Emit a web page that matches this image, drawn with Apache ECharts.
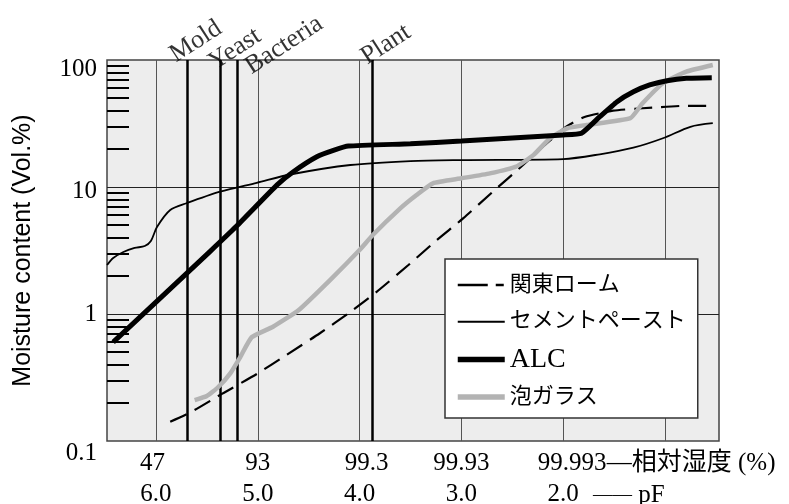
<!DOCTYPE html>
<html>
<head>
<meta charset="utf-8">
<script src="https://cdn.jsdelivr.net/npm/echarts@6/dist/echarts.min.js"></script>
<style>html,body{margin:0;padding:0;background:#fff;}#c{width:789px;height:504px;}</style>
</head>
<body>
<div id="c"></div>
<script>
// ---- data ----
const pfTicks = [6, 5, 4, 3, 2];
const rhLabels = ['47', '93', '99.3', '99.93', '99.993'];
const pfLabels = ['6.0', '5.0', '4.0', '3.0', '2.0'];
const rhTitle = '—相対湿度 (%)';
const pfTitle = 'pF';
const gridPF = [6, 5, 4, 3, 2, 1];
const gridY = [1, 10];
const yTickLabels = ['0.1', '1', '10', '100'];
const yMinorTicks = [0.2,0.3,0.4,0.5,0.6,0.7,0.8,0.9,2,3,4,5,6,7,8,9,20,30,40,50,60,70,80,90];
const organisms = ['Mold', 'Yeast', 'Bacteria', 'Plant'];
const organismPF = [5.69, 5.37, 5.20, 3.885];

const seriesNames = ['関東ローム', 'セメントペースト', 'ALC', '泡ガラス'];

const loamPF = [5.86, 5.65, 5.34, 5.01, 4.72, 4.39, 4.09, 3.83, 3.52, 3.24, 2.98, 2.69, 2.41, 2.16, 1.97, 1.79, 1.51, 1.22, 0.78, 0.53];
const loamV  = [0.142, 0.170, 0.238, 0.337, 0.475, 0.705, 1.04, 1.50, 2.43, 3.83, 5.68, 9.19, 14.5, 22.1, 29.8, 35.6, 39.9, 41.7, 43.6, 43.6];

const cementPF = [6.48, 6.42, 6.32, 6.21, 6.11, 6.05, 5.99, 5.86, 5.70, 5.37, 5.01, 4.67, 4.09, 3.50, 3.00, 2.00, 1.64, 1.31, 1.02, 0.75, 0.53];
const cementV  = [2.43, 2.76, 3.08, 3.31, 3.43, 3.76, 4.84, 6.59, 7.45, 9.19, 10.8, 12.6, 14.9, 16.0, 16.3, 16.6, 18.1, 20.4, 24.2, 29.8, 31.8];

const alcPF = [6.42, 5.47, 5.21, 4.81, 4.65, 4.42, 4.25, 4.11, 3.50, 3.00, 2.00, 1.82, 1.64, 1.47, 1.31, 1.15, 0.98, 0.79, 0.54];
const alcV  = [0.60, 3.1, 4.9, 10.4, 13.2, 17.3, 19.5, 21.0, 21.9, 23.0, 25.7, 26.5, 35.8, 47.0, 56.2, 63.6, 68.7, 71.8, 72.6];

const foamPF = [5.62, 5.50, 5.39, 5.27, 5.17, 5.06, 4.85, 4.60, 4.29, 4.00, 3.87, 3.60, 3.44, 3.28, 3.00, 2.72, 2.46, 2.29, 2.13, 1.96, 1.77, 1.34, 1.22, 1.02, 0.79, 0.53];
const foamV  = [0.210, 0.226, 0.265, 0.341, 0.461, 0.656, 0.794, 1.07, 1.85, 3.19, 4.19, 6.79, 8.65, 10.7, 11.7, 12.8, 14.5, 17.9, 24.2, 29.0, 30.8, 34.8, 45.6, 65.6, 80.9, 91.3];

// ---- chart ----
const SERIF = "'Liberation Serif', 'Noto Sans CJK JP', serif";
const zip = (a, b) => a.map((v, i) => [v, b[i]]);
const tickIndex = v => pfTicks.findIndex(t => Math.abs(t - v) < 1e-6);
const orgLabelOffset = [[-11, 2], [-10, 12], [4, 26], [-6, 8]];
const lastTick = pfTicks[pfTicks.length - 1];

const chart = echarts.init(document.getElementById('c'), null, {renderer: 'canvas'});

const xBase = {
  type: 'value', inverse: true, min: 0.469, max: 6.481, gridIndex: 0, position: 'bottom',
  axisLine: {show: false}, axisTick: {show: false}, splitLine: {show: false},
  nameLocation: 'start', nameMoveOverlap: false
};
const labelBase = {margin: 10, fontFamily: SERIF, fontSize: 25, color: '#000',
  showMinLabel: true, showMaxLabel: true, hideOverlap: false};

chart.setOption({
  animation: false,
  backgroundColor: '#fff',
  grid: {left: 107, top: 60, width: 612, height: 381, show: true,
         backgroundColor: '#ededed', borderColor: '#444', borderWidth: 1.5,
         containLabel: false, outerBoundsMode: 'none'},
  legend: {
    orient: 'vertical', left: 445, top: 259,
    itemWidth: 47, itemHeight: 14, itemGap: 10.7,
    padding: [13, 12, 8, 10],
    backgroundColor: '#fff', borderColor: '#333', borderWidth: 1.5, borderRadius: 0,
    itemStyle: {opacity: 0},
    textStyle: {fontFamily: SERIF, fontSize: 22, color: '#000', lineHeight: 26,
      rich: {alc: {fontFamily: SERIF, fontSize: 28, lineHeight: 26, color: '#000'}}},
    formatter: n => n === 'ALC' ? '{alc|ALC}' : n,
    data: [
      {name: seriesNames[0], lineStyle: {type: [30, 8, 8, 100], width: 2.5, color: '#000'}},
      {name: seriesNames[1], lineStyle: {type: 'solid', width: 2, color: '#000'}},
      {name: seriesNames[2], lineStyle: {type: 'solid', width: 5.5, color: '#000'}},
      {name: seriesNames[3], lineStyle: {type: 'solid', width: 5.5, color: '#b3b3b3'}}
    ]
  },
  xAxis: [
    Object.assign({}, xBase, {
      axisLabel: Object.assign({}, labelBase, {customValues: pfTicks,
        formatter: v => { const i = tickIndex(v); return '{r' + i + '|' + rhLabels[i] + '}'; },
        rich: {r0: {padding: [0, 7, 0, 0]}, r1: {}, r2: {padding: [0, 0, 0, 14]}, r3: {},
               r4: {padding: [0, 0, 0, 18]}}})
    }),
    Object.assign({}, xBase, {
      offset: 31,
      axisLabel: Object.assign({}, labelBase, {customValues: pfTicks,
        formatter: v => pfLabels[tickIndex(v)]}),
      name: '{d|——}{p| ' + pfTitle + '}', nameGap: -126,
      nameTextStyle: {fontFamily: SERIF, fontSize: 25, color: '#000', padding: [46, 0, 0, 0],
        rich: {d: {fontFamily: SERIF, fontSize: 19.5, color: '#000'}, p: {fontFamily: SERIF, fontSize: 25, color: '#000'}}}
    }),
    Object.assign({}, xBase, {
      axisLabel: Object.assign({}, labelBase, {customValues: [lastTick],
        formatter: () => '{pad| }{s|' + rhTitle + '}',
        rich: {pad: {width: 256}, s: {}}})
    })
  ],
  yAxis: {
    type: 'log', logBase: 10, min: 0.1, max: 100,
    axisLine: {show: false},
    axisTick: {show: true, inside: true, length: 22, customValues: yMinorTicks, lineStyle: {color: '#000', width: 2}},
    splitLine: {show: false},
    axisLabel: {showMinLabel: true, showMaxLabel: true, margin: 10, fontFamily: SERIF, fontSize: 25, color: '#000',
      formatter: v => { const k = Math.round(Math.log10(v)) + 1; return '{y' + k + '|' + yTickLabels[k] + '}'; },
      rich: {y0: {padding: [24, 0, 0, 0]}, y1: {}, y2: {padding: [8, 0, 0, 0]}, y3: {padding: [18, 0, 0, 0]}}},
    name: 'Moisture content (Vol.%)', nameLocation: 'middle', nameGap: 71, nameMoveOverlap: false,
    nameTextStyle: {fontFamily: "'Liberation Sans', Arial, sans-serif", fontSize: 25, color: '#000'}
  },
  series: [
    {
      type: 'line', name: 'grid', data: [], z: 1, silent: true,
      markLine: {silent: true, symbol: ['none', 'none'], z: 1, label: {show: false},
        lineStyle: {color: '#555', width: 1, type: 'solid'},
        emphasis: {disabled: true},
        data: gridPF.map(v => ({xAxis: v})).concat(gridY.map(v => ({yAxis: v, lineStyle: {color: '#222'}})))}
    },
    {
      type: 'scatter', name: 'organisms', z: 2, silent: true, symbolSize: 0,
      data: organismPF.map((p, i) => ({value: [p, 100],
        label: {offset: orgLabelOffset[i]}})),
      label: {show: true, position: 'inside', align: 'left', verticalAlign: 'bottom', rotate: 33,
        fontFamily: SERIF, fontSize: 26, color: '#000',
        formatter: p => organisms[p.dataIndex]},
      markLine: {silent: true, symbol: ['none', 'none'], z: 2, label: {show: false},
        lineStyle: {color: '#000', width: 2.5, type: 'solid'},
        emphasis: {disabled: true},
        data: organismPF.map(v => ({xAxis: v}))}
    },
    {type: 'line', name: seriesNames[0], data: zip(loamPF, loamV), z: 10, symbol: 'none', smooth: 0.2,
      lineStyle: {color: '#000', width: 2.2, type: [18, 9]}, itemStyle: {color: '#000'}},
    {type: 'line', name: seriesNames[1], data: zip(cementPF, cementV), z: 10, symbol: 'none', smooth: 0.3,
      lineStyle: {color: '#000', width: 1.8}, itemStyle: {color: '#000'}},
    {type: 'line', name: seriesNames[2], data: zip(alcPF, alcV), z: 11, symbol: 'none', smooth: 0.15,
      lineStyle: {color: '#000', width: 5}, itemStyle: {color: '#000'}},
    {type: 'line', name: seriesNames[3], data: zip(foamPF, foamV), z: 10, symbol: 'none', smooth: 0.15,
      lineStyle: {color: '#b3b3b3', width: 4.5}, itemStyle: {color: '#b3b3b3'}}
  ]
});
</script>
</body>
</html>
